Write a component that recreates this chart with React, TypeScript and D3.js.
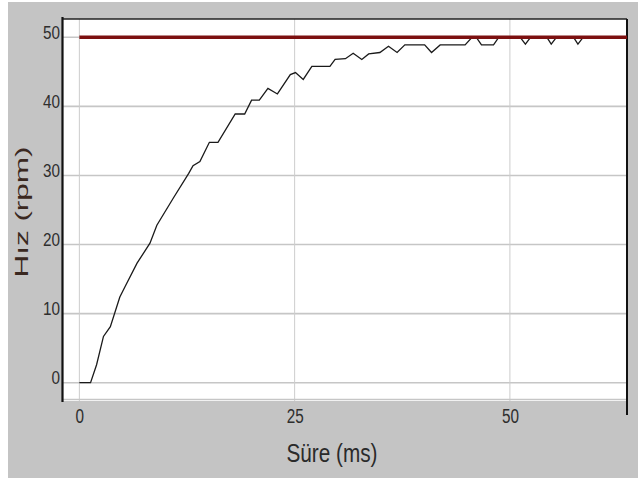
import { useEffect, useRef } from "react";
import * as d3 from "d3";

const timeMs = [
    0, 1.3, 2.0, 2.8, 3.6, 4.7, 5.3, 6.7, 8.2, 9.0, 10.9, 12.7, 13.2, 14.0, 15.1, 16.1, 18.1, 19.2, 20.0, 20.9,
    21.9, 23.0, 24.5, 25.1, 26.0, 27.0, 29.1, 29.7, 30.9, 31.8, 32.8, 33.6, 34.9, 35.9, 36.9, 37.8, 40.1, 40.9,
    41.9, 44.8, 45.6, 46.1, 46.7, 48.1, 48.7, 51.2, 51.8, 52.4, 54.3, 54.8, 55.4, 57.4, 57.9, 58.5, 63.6,
];
const speedRpm = [
    0, 0, 2.6, 6.7, 8.1, 12.4, 13.9, 17.3, 20.2, 22.8, 26.7, 30.3, 31.4, 32.0, 34.8, 34.8, 38.9, 38.9, 40.9, 40.9,
    42.6, 41.8, 44.6, 44.9, 43.9, 45.8, 45.8, 46.8, 46.9, 47.7, 46.8, 47.6, 47.8, 48.7, 47.8, 48.9, 48.9, 47.8,
    48.9, 48.9, 50.0, 50.0, 48.9, 48.9, 50.0, 50.0, 49.0, 50.0, 50.0, 49.0, 50.0, 50.0, 49.0, 50.0, 50.0,
];
const referenceRpm = [50, 50];
const referenceTime = [0, 63.6];

const xTicks = [0, 25, 50];
const yTicks = [0, 10, 20, 30, 40, 50];
const xLabel = "Süre (ms)";
const yLabel = "Hız (rpm)";

export default function App() {
    const svgRef = useRef<SVGSVGElement | null>(null);

    useEffect(() => {
        if (!svgRef.current) return;
        const root = d3.select(svgRef.current);
        root.selectAll("*").remove();

        const width = 638;
        const height = 479;
        const plot = { left: 63, right: 627, top: 19, bottom: 401 };

        // backgrounds
        root.append("rect").attr("width", width).attr("height", height).attr("fill", "#ffffff");
        root.append("rect")
            .attr("x", 8)
            .attr("y", 2)
            .attr("width", width - 8)
            .attr("height", 476)
            .attr("fill", "#c4c4c4");
        root.append("rect")
            .attr("x", plot.left)
            .attr("y", plot.top)
            .attr("width", plot.right - plot.left)
            .attr("height", plot.bottom - plot.top)
            .attr("fill", "#ffffff");

        const x = d3.scaleLinear().domain([-1.9, 63.6]).range([plot.left, plot.right]);
        const y = d3.scaleLinear().domain([-2.65, 52.65]).range([plot.bottom, plot.top]);

        // grid
        root.append("g")
            .selectAll("line")
            .data(yTicks)
            .enter()
            .append("line")
            .attr("x1", plot.left)
            .attr("x2", plot.right)
            .attr("y1", (d) => y(d))
            .attr("y2", (d) => y(d))
            .attr("stroke", "#c6c6c6")
            .attr("stroke-width", 1.6);
        root.append("g")
            .selectAll("line")
            .data(xTicks)
            .enter()
            .append("line")
            .attr("x1", (d) => x(d))
            .attr("x2", (d) => x(d))
            .attr("y1", plot.top)
            .attr("y2", plot.bottom)
            .attr("stroke", "#cdcdcd")
            .attr("stroke-width", 1);
        root.append("line")
            .attr("x1", plot.left)
            .attr("x2", plot.right)
            .attr("y1", plot.bottom - 1.5)
            .attr("y2", plot.bottom - 1.5)
            .attr("stroke", "#c6c6c6")
            .attr("stroke-width", 1.5);

        // frame
        root.append("line")
            .attr("x1", plot.left)
            .attr("x2", plot.right)
            .attr("y1", plot.top)
            .attr("y2", plot.top)
            .attr("stroke", "#222")
            .attr("stroke-width", 1.5);
        root.append("line")
            .attr("x1", plot.right)
            .attr("x2", plot.right)
            .attr("y1", plot.top)
            .attr("y2", 415)
            .attr("stroke", "#111")
            .attr("stroke-width", 2);
        root.append("line")
            .attr("x1", plot.left - 0.5)
            .attr("x2", plot.left - 0.5)
            .attr("y1", plot.top - 2)
            .attr("y2", plot.bottom + 1)
            .attr("stroke", "#111")
            .attr("stroke-width", 2.2);

        // axes (labels only)
        const yAxis = root.append("g")
            .attr("transform", `translate(${plot.left - 2},0)`)
            .call(d3.axisLeft(y).tickValues(yTicks).tickSize(0).tickPadding(1));
        yAxis.select(".domain").remove();
        yAxis.selectAll("text")
            .attr("dy", "0.05em")
            .attr("font-family", "'Liberation Sans', Arial, sans-serif")
            .attr("font-size", 19)
            .attr("fill", "#2e2e2e")
            .attr("textLength", (d: any) => String(d).length * 8.5)
            .attr("lengthAdjust", "spacingAndGlyphs");

        const xAxis = root.append("g")
            .attr("transform", `translate(0,${plot.bottom})`)
            .call(d3.axisBottom(x).tickValues(xTicks).tickSize(0));
        xAxis.select(".domain").remove();
        xAxis.selectAll("text")
            .attr("y", 22)
            .attr("dy", 0)
            .attr("font-family", "'Liberation Sans', Arial, sans-serif")
            .attr("font-size", 20)
            .attr("fill", "#2e2e2e")
            .attr("textLength", (d: any) => String(d).length * 8.5)
            .attr("lengthAdjust", "spacingAndGlyphs");

        // speed curve
        const pts = timeMs.map((t, i) => [t, speedRpm[i]] as [number, number]);
        const line = d3
            .line<[number, number]>()
            .x((d) => x(d[0]))
            .y((d) => y(d[1]));
        root.append("path")
            .attr("d", line(pts))
            .attr("fill", "none")
            .attr("stroke", "#1a1a1a")
            .attr("stroke-width", 1.3);

        // reference
        const ref = referenceTime.map((t, i) => [t, referenceRpm[i]] as [number, number]);
        root.append("path")
            .attr("d", line(ref))
            .attr("fill", "none")
            .attr("stroke", "#7c1010")
            .attr("stroke-width", 3.5);

        // axis titles
        root.append("text")
            .attr("x", 332)
            .attr("y", 462)
            .attr("text-anchor", "middle")
            .attr("font-family", "'Liberation Sans', Arial, sans-serif")
            .attr("font-size", 26)
            .attr("fill", "#2a2a2a")
            .attr("textLength", 91)
            .attr("lengthAdjust", "spacingAndGlyphs")
            .text(xLabel);
        root.append("text")
            .attr("transform", "translate(28,212) rotate(-90)")
            .attr("text-anchor", "middle")
            .attr("font-family", "'Liberation Sans', Arial, sans-serif")
            .attr("font-size", 19)
            .attr("fill", "#3a2820")
            .attr("textLength", 131)
            .attr("lengthAdjust", "spacingAndGlyphs")
            .text(yLabel);
    }, []);

    return (
        <svg
            ref={svgRef}
            width={638}
            height={479}
            style={{ position: "absolute", left: 0, top: 0, display: "block" }}
        />
    );
}
